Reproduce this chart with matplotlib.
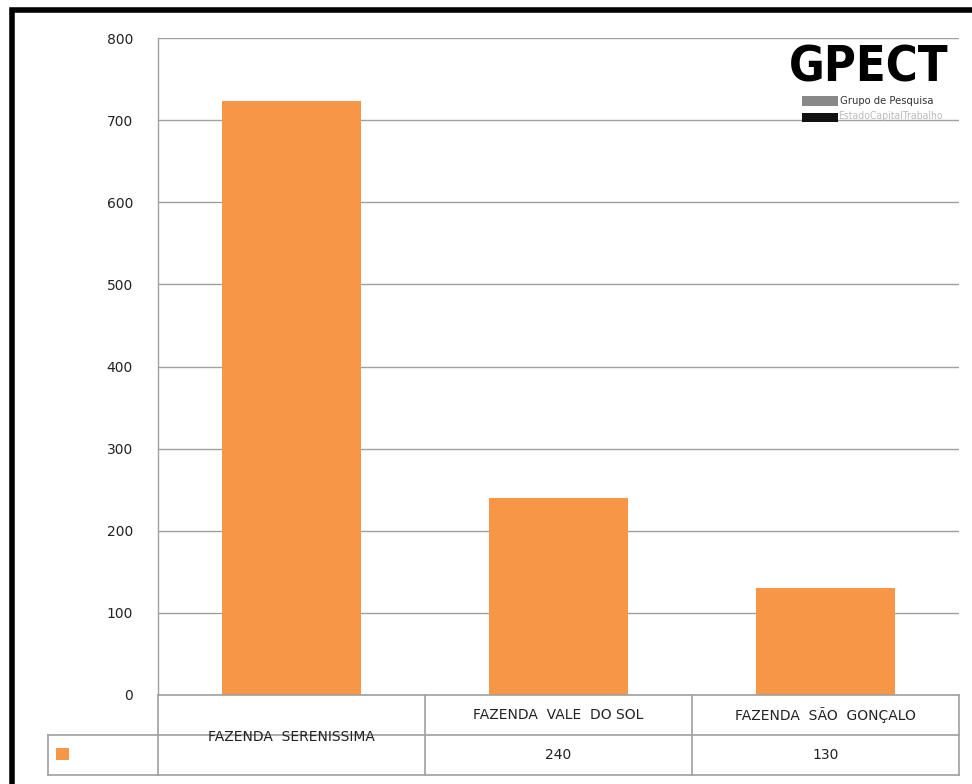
import matplotlib.pyplot as plt
import matplotlib.patches as patches
from matplotlib.lines import Line2D
import matplotlib.transforms as mtransforms

# dados
fazendas = ['FAZENDA  SERENISSIMA', 'FAZENDA  VALE  DO SOL', 'FAZENDA  SÃO  GONÇALO']
valores = [723, 240, 130]
valores_tabela = ['', '240', '130']   # a primeira célula aparece vazia no original
yticks = [0, 100, 200, 300, 400, 500, 600, 700, 800]

W, H = 972, 784
cor_barra = '#F79646'
cor_linha = '#A0A0A0'

fig = plt.figure(figsize=(W / 100, H / 100), dpi=100)
fig.patch.set_facecolor('white')

# moldura preta (cortada à direita e embaixo)
fig.patches.append(patches.Rectangle((12 / W, -0.1), 1.2, 1.1 - 10 / H, transform=fig.transFigure,
                                     fill=False, edgecolor='black', linewidth=4))

ax = fig.add_axes([158 / W, 1 - 695 / H, (959 - 158) / W, (695 - 38) / H])
x = list(range(len(fazendas)))
ax.bar(x, valores, width=0.52, color=cor_barra, zorder=2)
ax.set_xlim(-0.5, 2.5)
ax.set_ylim(0, 800)
ax.set_yticks(yticks)
ax.set_yticklabels([str(v) for v in yticks], fontsize=10, color='#222222')
ax.tick_params(axis='y', length=0, pad=18)
ax.set_xticks([])
ax.grid(axis='y', color=cor_linha, linewidth=1.0, zorder=1)
for s in ['top', 'right', 'bottom']:
    ax.spines[s].set_visible(False)
ax.spines['left'].set_color(cor_linha)
ax.spines['left'].set_linewidth(1.0)

# tabela de dados abaixo do gráfico
trans = mtransforms.blended_transform_factory(ax.transData, ax.transAxes)
px = 1 / (695 - 38)  # um pixel em fração do eixo
y0, y1, y2 = 0, -40 * px, -80 * px
x_leg = -0.5 - (158 - 48) / ((959 - 158) / 3)

def linha(xs, ys):
    ax.add_line(Line2D(xs, ys, transform=trans, color=cor_linha, linewidth=1.2, clip_on=False))

linha([-0.5, 2.5], [y0, y0])
linha([x_leg, 2.5], [y1, y1])
linha([x_leg, 2.5], [y2, y2])
linha([x_leg, x_leg], [y1, y2])
for b in [-0.5, 0.5, 1.5, 2.5]:
    linha([b, b], [y0, y2])

for i, nome in enumerate(fazendas):
    yt = y1 - 2 * px if i == 0 else (y0 + y1) / 2
    ax.text(i, yt, nome, transform=trans, ha='center', va='center', fontsize=10, color='#222222')
    ax.text(i, (y1 + y2) / 2, valores_tabela[i], transform=trans, ha='center', va='center',
            fontsize=10, color='#222222')

# marcador da legenda
ax.add_patch(patches.Rectangle((x_leg + 0.03, y1 - 25 * px), 0.048, 12 * px, transform=trans,
                               facecolor=cor_barra, edgecolor='none', clip_on=False))

# logotipo GPECT
fig.text(869 / W, 1 - 68 / H, 'GPECT', ha='center', va='center', fontsize=35, fontweight='bold',
         fontstretch='condensed', family='DejaVu Sans', color='black')
fig.patches.append(patches.Rectangle((802 / W, 1 - 106 / H), 36 / W, 10 / H, transform=fig.transFigure,
                                     facecolor='#888888', edgecolor='none'))
fig.patches.append(patches.Rectangle((802 / W, 1 - 122 / H), 36 / W, 9 / H, transform=fig.transFigure,
                                     facecolor='#111111', edgecolor='none'))
fig.text(840 / W, 1 - 101 / H, 'Grupo de Pesquisa', ha='left', va='center', fontsize=8,
         fontstretch='condensed', family='DejaVu Sans', color='#333333')
fig.text(838 / W, 1 - 116 / H, 'EstadoCapitalTrabalho', ha='left', va='center', fontsize=7.5,
         fontstretch='condensed', family='DejaVu Sans', color='#bbbbbb')

fig.savefig('out.png', dpi=100)
